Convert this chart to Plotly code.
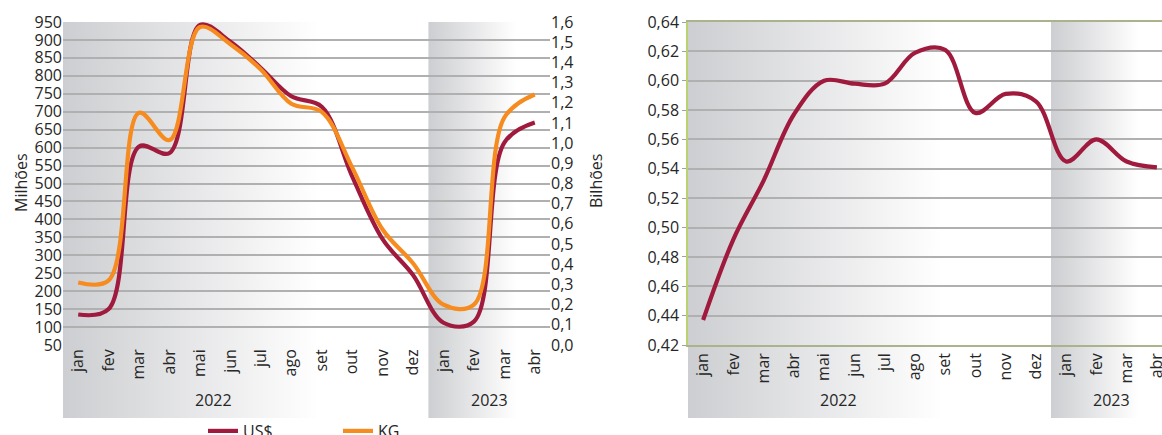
import base64
import plotly.graph_objects as go

# ---------------- data ----------------
months = ["jan", "fev", "mar", "abr", "mai", "jun", "jul", "ago", "set", "out", "nov", "dez",
          "jan", "fev", "mar", "abr"]
years = ["2022", "2023"]
usd_millions = [135, 150, 603, 585, 942, 895, 822, 743, 714, 520, 345, 245, 112, 115, 614, 670]
kg_billions = [0.31, 0.32, 1.15, 1.015, 1.575, 1.49, 1.365, 1.195, 1.155, 0.88, 0.572, 0.405,
               0.20, 0.20, 1.127, 1.241]
price_usd_kg = [0.437, 0.492, 0.532, 0.577, 0.600, 0.598, 0.598, 0.619, 0.621, 0.578, 0.591,
                0.586, 0.545, 0.560, 0.545, 0.541]

idx = list(range(len(months)))

W, H = 1162, 435
FONT = "Open Sans"
TXT = "#262626"
GRID = "#b0b0b0"
MAROON = "#a01a3d"
ORANGE = "#f68b1f"


def px_x(p):
    return p / W


def px_y(p):
    return (H - p) / H


L_DOM = [px_x(63), px_x(550)]
R_DOM = [px_x(688), 1.0]
Y_DOM = [px_y(345), px_y(22)]
R_RANGE_END = 15.5 - (1172 - 1162) / 30.25


def grad_uri(stop):
    svg = ("<svg xmlns='http://www.w3.org/2000/svg' width='100' height='100' "
           "viewBox='0 0 100 100' preserveAspectRatio='none'><defs>"
           "<linearGradient id='g' x1='0' x2='1' y1='0' y2='0'>"
           "<stop offset='0' stop-color='#cdced1'/>"
           f"<stop offset='{stop}' stop-color='#ffffff'/>"
           "</linearGradient></defs>"
           "<rect x='0' y='0' width='100' height='100' fill='url(#g)'/></svg>")
    return "data:image/svg+xml;base64," + base64.b64encode(svg.encode()).decode()


fig = go.Figure()

fig.add_trace(go.Scatter(x=idx, y=usd_millions, name="US$", mode="lines",
                         line=dict(color=MAROON, width=4.2, shape="spline", smoothing=1.0),
                         xaxis="x", yaxis="y"))
fig.add_trace(go.Scatter(x=idx, y=kg_billions, name="KG", mode="lines",
                         line=dict(color=ORANGE, width=4.2, shape="spline", smoothing=1.0),
                         xaxis="x", yaxis="y2"))
fig.add_trace(go.Scatter(x=idx, y=price_usd_kg, name="US$/KG", mode="lines", showlegend=False,
                         line=dict(color=MAROON, width=4.2, shape="spline", smoothing=1.0),
                         xaxis="x2", yaxis="y3"))

band_bottom = px_y(418)
band_top = Y_DOM[1]
images = []
for xref in ["x", "x2"]:
    images.append(dict(source=grad_uri(0.7), xref=xref, yref="paper", x=-0.5, y=band_top,
                       sizex=12, sizey=band_top - band_bottom, xanchor="left", yanchor="top",
                       sizing="stretch", layer="below"))
    images.append(dict(source=grad_uri(0.72), xref=xref, yref="paper", x=11.5, y=band_top,
                       sizex=4, sizey=band_top - band_bottom, xanchor="left", yanchor="top",
                       sizing="stretch", layer="below"))

tickfont = dict(family=FONT, size=16, color=TXT)

annotations = []
for xref in ["x", "x2"]:
    annotations.append(dict(text=years[0], xref=xref, yref="paper", x=4.46, y=px_y(400),
                            showarrow=False, font=tickfont, xanchor="center", yanchor="middle"))
    annotations.append(dict(text=years[1], xref=xref, yref="paper", x=13.5, y=px_y(400),
                            showarrow=False, font=tickfont, xanchor="center", yanchor="middle"))
annotations.append(dict(text="Milhões", xref="paper", yref="paper", x=px_x(21), y=px_y(183),
                        textangle=-90, showarrow=False, font=tickfont,
                        xanchor="center", yanchor="middle"))
annotations.append(dict(text="Bilhões", xref="paper", yref="paper", x=px_x(596), y=px_y(181),
                        textangle=-90, showarrow=False, font=tickfont,
                        xanchor="center", yanchor="middle"))

fig.update_layout(
    width=W, height=H,
    margin=dict(l=0, r=0, t=0, b=0, autoexpand=False),
    paper_bgcolor="white", plot_bgcolor="rgba(0,0,0,0)",
    separators=",.",
    font=dict(family=FONT, size=16, color=TXT),
    images=images,
    annotations=annotations,
    showlegend=True,
    legend=dict(orientation="h", x=px_x(203), y=px_y(431), xanchor="left", yanchor="middle",
                font=tickfont, bgcolor="rgba(0,0,0,0)", entrywidth=90,
                entrywidthmode="pixels"),
    xaxis=dict(domain=L_DOM, anchor="y", range=[-0.5, 15.5], tickmode="array",
               tickvals=idx, ticktext=months, tickangle=-90, showgrid=False,
               zeroline=False, showline=False, ticks="", tickfont=tickfont),
    yaxis=dict(domain=Y_DOM, anchor="x", range=[50, 950], dtick=50, tick0=50,
               showgrid=True, gridcolor=GRID, gridwidth=1.5, zeroline=False,
               showline=False, ticks="", tickfont=tickfont),
    yaxis2=dict(overlaying="y", side="right", anchor="x", range=[0, 1.6], dtick=0.1, tick0=0,
                tickformat=".1f", showgrid=False, zeroline=False, showline=False, ticks="",
                tickfont=tickfont),
    xaxis2=dict(domain=R_DOM, anchor="y3", range=[-0.5, R_RANGE_END], tickmode="array",
                tickvals=idx, ticktext=months, tickangle=-90, showgrid=False,
                zeroline=False, showline=True, linecolor="#a9b38c", linewidth=1.5,
                mirror=True, ticks="", tickfont=tickfont, ticklabeloverflow="allow"),
    yaxis3=dict(domain=Y_DOM, anchor="x2", range=[0.42, 0.64], dtick=0.02, tick0=0.42,
                tickformat=".2f", showgrid=True, gridcolor=GRID, gridwidth=1.5,
                zeroline=False, showline=True, linecolor="#b9d16f", linewidth=1.5,
                mirror=True, ticks="outside", ticklen=4, tickcolor="#a0a0a0",
                tickfont=tickfont),
)

fig.write_html("out.html")
